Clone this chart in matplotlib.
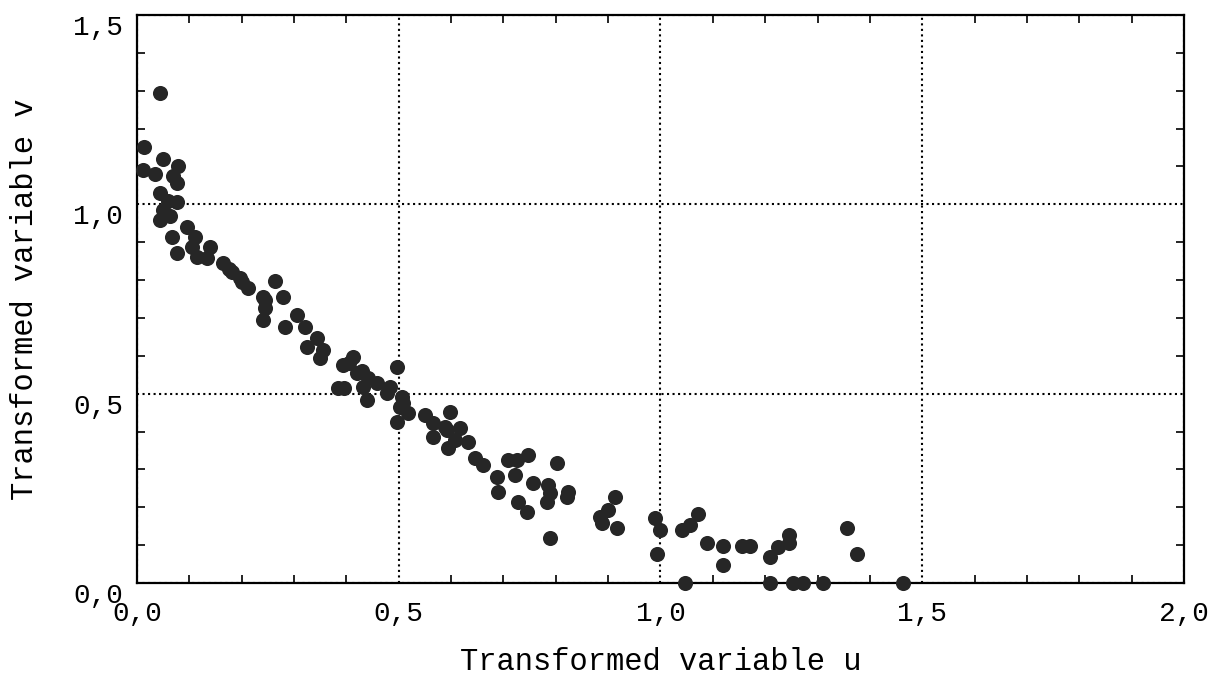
import matplotlib.pyplot as plt
from matplotlib.ticker import MultipleLocator, FuncFormatter

# values
u = [0.044, 0.013, 0.050, 0.078, 0.011, 0.034, 0.069, 0.076, 0.044, 0.076,
     0.060, 0.050, 0.044, 0.063, 0.095, 0.067, 0.111, 0.105, 0.139, 0.076,
     0.115, 0.134, 0.164, 0.175, 0.181, 0.197, 0.200, 0.212, 0.264, 0.241,
     0.279, 0.245, 0.245, 0.241, 0.306, 0.283, 0.321, 0.344, 0.325, 0.355,
     0.350, 0.413, 0.394, 0.420, 0.384, 0.395, 0.441, 0.432, 0.458, 0.439,
     0.430, 0.405, 0.497, 0.483, 0.478, 0.506, 0.502, 0.518, 0.497, 0.550,
     0.565, 0.592, 0.565, 0.508, 0.598, 0.588, 0.617, 0.594, 0.607, 0.632,
     0.646, 0.661, 0.688, 0.690, 0.709, 0.726, 0.747, 0.722, 0.728, 0.745,
     0.756, 0.785, 0.789, 0.783, 0.802, 0.823, 0.821, 0.789, 0.913, 0.900,
     0.884, 0.888, 0.917, 0.989, 0.999, 0.993, 1.047, 1.041, 1.056, 1.072,
     1.089, 1.120, 1.120, 1.156, 1.171, 1.209, 1.209, 1.225, 1.245, 1.245,
     1.253, 1.272, 1.310, 1.356, 1.375, 1.463]
v = [1.294, 1.151, 1.120, 1.100, 1.090, 1.080, 1.075, 1.056, 1.030, 1.006,
     1.010, 0.985, 0.959, 0.970, 0.940, 0.914, 0.914, 0.887, 0.887, 0.871,
     0.861, 0.858, 0.845, 0.830, 0.821, 0.805, 0.795, 0.779, 0.797, 0.755,
     0.755, 0.747, 0.726, 0.694, 0.708, 0.676, 0.676, 0.647, 0.623, 0.615,
     0.594, 0.597, 0.576, 0.555, 0.515, 0.515, 0.541, 0.518, 0.528, 0.483,
     0.560, 0.580, 0.570, 0.518, 0.502, 0.491, 0.465, 0.449, 0.425, 0.444,
     0.422, 0.404, 0.386, 0.475, 0.452, 0.412, 0.409, 0.356, 0.378, 0.372,
     0.330, 0.312, 0.280, 0.240, 0.325, 0.325, 0.338, 0.285, 0.214, 0.187,
     0.264, 0.259, 0.238, 0.214, 0.317, 0.240, 0.227, 0.119, 0.227, 0.193,
     0.174, 0.158, 0.145, 0.172, 0.140, 0.077, 0.000, 0.140, 0.153, 0.182,
     0.106, 0.098, 0.048, 0.098, 0.098, 0.000, 0.069, 0.095, 0.127, 0.106,
     0.000, 0.000, 0.000, 0.145, 0.077, 0.000]

xlabel = "Transformed variable u"
ylabel = "Transformed variable v"

plt.rcParams['font.family'] = ['Liberation Mono', 'DejaVu Sans Mono']

fig = plt.figure(figsize=(12.22, 6.93), dpi=100)
ax = fig.add_axes([0.1121, 0.1587, 0.8568, 0.8197])

ax.scatter(u, v, s=118, color='#262626', linewidths=0, zorder=3, clip_on=False)

ax.set_xlim(0, 2.0)
ax.set_ylim(0, 1.5)
ax.xaxis.set_major_locator(MultipleLocator(0.5))
ax.yaxis.set_major_locator(MultipleLocator(0.5))
ax.xaxis.set_minor_locator(MultipleLocator(0.1))
ax.yaxis.set_minor_locator(MultipleLocator(0.1))
comma = FuncFormatter(lambda x, pos: f"{x:.1f}".replace('.', ','))
ax.xaxis.set_major_formatter(comma)
ax.yaxis.set_major_formatter(comma)

ax.grid(True, which='major', color='black', linestyle=':', linewidth=1.5)
ax.tick_params(which='both', direction='in', top=True, right=True, color='black')
ax.tick_params(which='major', length=0, labelsize=20)
ax.tick_params(which='minor', length=6, width=1.2)
ax.tick_params(axis='x', which='major', pad=13)
ax.tick_params(axis='y', which='major', pad=10)
for lbl in ax.get_yticklabels():
    lbl.set_verticalalignment('top')
for s in ax.spines.values():
    s.set_linewidth(1.6)
    s.set_color('black')

ax.set_xlabel(xlabel, fontsize=22, labelpad=14)
ax.set_ylabel(ylabel, fontsize=22, labelpad=24)

plt.savefig('out.png', dpi=100)
